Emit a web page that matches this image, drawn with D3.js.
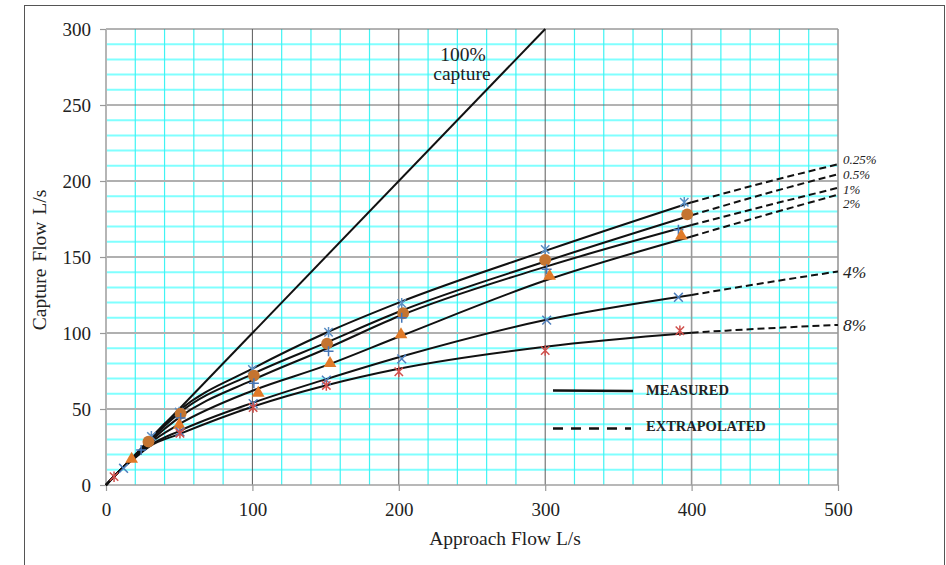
<!DOCTYPE html>
<html>
<head>
<meta charset="utf-8">
<script src="https://cdn.jsdelivr.net/npm/d3@7"></script>
<style>
  html, body { margin: 0; padding: 0; background: #fff; }
  svg { display: block; }
  text { font-family: "Liberation Serif", "Times New Roman", serif; fill: #222; }
</style>
</head>
<body>
<svg id="chart" width="946" height="565"></svg>
<script>
// ---------- data ----------
const seriesNames = ["0.25%", "0.5%", "1%", "2%", "4%", "8%"];
const xTicks = [0, 100, 200, 300, 400, 500];
const yTicks = [0, 50, 100, 150, 200, 250, 300];

// fitted curves (measured part, solid)
const curve025 = [[0,0],[10,10],[20,19.5],[30,30.5],[50,49],[100,76.5],[150,100],[200,120],[300,154],[400,186]];
const curve05  = [[0,0],[10,10],[20,19.3],[30,29.5],[50,47.3],[100,73],[150,93.5],[200,114],[300,147],[400,177.5]];
const curve1   = [[0,0],[10,10],[20,19],[30,28.5],[50,44.5],[100,69],[150,89.5],[200,111],[300,143.5],[400,171]];
const curve2   = [[0,0],[10,10],[20,18.7],[30,27.5],[50,40],[100,62],[150,78.5],[200,97.5],[300,134.5],[400,163.5]];
const curve4   = [[0,0],[10,10],[20,18.3],[30,26],[50,35.5],[100,54],[150,69.5],[200,84],[300,108.5],[400,125]];
const curve8   = [[0,0],[10,10],[20,18],[30,25.5],[50,33.5],[100,51.5],[150,65.5],[200,76.5],[300,91],[400,100.2]];

// extrapolated part (dashed)
const ext025 = [[400,186],[450,199],[500,211]];
const ext05  = [[400,177.5],[450,191.5],[500,204.5]];
const ext1   = [[400,171],[450,183.5],[500,195.5]];
const ext2   = [[400,163.5],[450,177.5],[500,191]];
const ext4   = [[400,125],[450,133],[500,140.5]];
const ext8   = [[400,100.2],[450,103],[500,105.3]];

// 100% capture line
const capture100 = [[0,0],[300,300]];

// measured points
const pts025 = [[31,32],[50,48],[100,76],[152,100.5],[202,119.5],[300,155],[395,186]];
const pts05  = [[29,28.5],[51,47],[101,72],[151,93],[203,113],[300,148],[397,178]];
const pts1   = [[24,23],[51,44],[101,67],[152,88],[202,110],[301,142],[391,168]];
const pts2   = [[17.5,17],[50,39.5],[104,60.5],[153,80],[201.5,99],[303,137.5],[393,164]];
const pts4   = [[12,11],[50.5,35],[100.5,53.5],[150.5,69],[202,83],[301,108.5],[391,123.5]];
const pts8   = [[5.5,5.5],[50.5,34],[100.5,51],[150.5,65.5],[200,74.5],[300,88.5],[392,101.5]];

const legendLabels = ["MEASURED", "EXTRAPOLATED"];

// ---------- layout ----------
const svg = d3.select("#chart");
const x = d3.scaleLinear().domain([0, 500]).range([106, 838]);
const y = d3.scaleLinear().domain([0, 300]).range([485, 29]);

// outer frame
svg.append("rect").attr("x", 24.5).attr("y", 5.5).attr("width", 920).attr("height", 600)
  .attr("fill", "none").attr("stroke", "#555").attr("stroke-width", 1);

const g = svg.append("g");

// minor grid
d3.range(10, 300, 10).filter(v => v % 50 !== 0).forEach(v => {
  g.append("line").attr("x1", x(0)).attr("x2", x(500)).attr("y1", y(v)).attr("y2", y(v))
    .attr("stroke", "#80ffff").attr("stroke-width", 2);
});
d3.range(20, 500, 20).filter(v => v % 100 !== 0).forEach(v => {
  g.append("line").attr("x1", x(v)).attr("x2", x(v)).attr("y1", y(0)).attr("y2", y(300))
    .attr("stroke", "#40f4f4").attr("stroke-width", 1.2);
});
// major grid
[50, 100, 150, 200].forEach(v => {
  g.append("line").attr("x1", x(0)).attr("x2", x(500)).attr("y1", y(v)).attr("y2", y(v))
    .attr("stroke", "#b0b0b0").attr("stroke-width", 2);
});
[250, 300].forEach(v => {
  g.append("line").attr("x1", x(0)).attr("x2", x(500)).attr("y1", y(v)).attr("y2", y(v))
    .attr("stroke", "#666").attr("stroke-width", 1);
});
[100, 200, 300].forEach(v => {
  g.append("line").attr("x1", x(v)).attr("x2", x(v)).attr("y1", y(0)).attr("y2", y(300))
    .attr("stroke", "#5a5a5a").attr("stroke-width", 1);
});
[400, 500].forEach(v => {
  g.append("line").attr("x1", x(v)).attr("x2", x(v)).attr("y1", y(0)).attr("y2", y(300))
    .attr("stroke", "#999").attr("stroke-width", 1.6);
});
// axes lines
g.append("line").attr("x1", x(0)).attr("x2", x(0)).attr("y1", y(0)).attr("y2", y(300))
  .attr("stroke", "#b5b5b5").attr("stroke-width", 2);
g.append("line").attr("x1", x(0)).attr("x2", x(500)).attr("y1", y(0)).attr("y2", y(0))
  .attr("stroke", "#a0a0a0").attr("stroke-width", 1.6);

// axes (ticks + labels)
const yAxis = d3.axisLeft(y).tickValues(yTicks).tickSize(6).tickPadding(9).tickFormat(d3.format("d"));
const xAxis = d3.axisBottom(x).tickValues(xTicks).tickSize(6).tickPadding(12).tickFormat(d3.format("d"));
const ya = svg.append("g").attr("transform", `translate(${x(0)},0)`).call(yAxis);
const xa = svg.append("g").attr("transform", `translate(0,${y(0)})`).call(xAxis);
[ya, xa].forEach(a => {
  a.select(".domain").remove();
  a.selectAll(".tick line").attr("stroke", "#999").attr("stroke-width", 1.2);
  a.selectAll(".tick text").attr("font-family", "Liberation Serif, serif").attr("font-size", 19).attr("fill", "#222");
});

// axis titles
svg.append("text").attr("x", 505).attr("y", 545).attr("text-anchor", "middle")
  .attr("font-size", 19.5).text("Approach Flow L/s");
svg.append("text").attr("transform", "translate(46,260) rotate(-90)").attr("text-anchor", "middle")
  .attr("font-size", 19.5).attr("word-spacing", 2).text("Capture Flow L/s");

// lines
const line = d3.line().x(d => x(d[0])).y(d => y(d[1])).curve(d3.curveMonotoneX);
const lineG = svg.append("g");
lineG.append("path").datum(capture100).attr("d", d3.line().x(d => x(d[0])).y(d => y(d[1])))
  .attr("fill", "none").attr("stroke", "#111").attr("stroke-width", 2);
[curve025, curve05, curve1, curve2, curve4, curve8].forEach(c => {
  lineG.append("path").datum(c).attr("d", line).attr("fill", "none")
    .attr("stroke", "#111").attr("stroke-width", 2);
});
[ext025, ext05, ext1, ext2, ext4, ext8].forEach(c => {
  lineG.append("path").datum(c).attr("d", line).attr("fill", "none")
    .attr("stroke", "#111").attr("stroke-width", 2).attr("stroke-dasharray", "7,4");
});

// marker symbols
const symAsterisk = { draw(ctx, size) { const r = Math.sqrt(size) / 2;
  const a = r * 0.8;
  ctx.moveTo(-a, -a); ctx.lineTo(a, a); ctx.moveTo(-a, a); ctx.lineTo(a, -a);
  ctx.moveTo(0, -r); ctx.lineTo(0, r); } };
const symTimes = { draw(ctx, size) { const r = Math.sqrt(size) / 2 * 0.8;
  ctx.moveTo(-r, -r); ctx.lineTo(r, r); ctx.moveTo(-r, r); ctx.lineTo(r, -r); } };
const symPlus = { draw(ctx, size) { const r = Math.sqrt(size) / 2;
  ctx.moveTo(-r, 0); ctx.lineTo(r, 0); ctx.moveTo(0, -r); ctx.lineTo(0, r); } };

const markerSets = [
  { pts: pts025, type: symAsterisk, size: 110, color: "#5b8fc4", fill: false },
  { pts: pts05, type: d3.symbolCircle, size: 110, color: "#c47430", fill: true },
  { pts: pts1, type: symPlus, size: 100, color: "#4475b8", fill: false },
  { pts: pts2, type: d3.symbolTriangle, size: 70, color: "#e07a28", fill: true },
  { pts: pts4, type: symTimes, size: 120, color: "#4f7fbe", fill: false },
  { pts: pts8, type: symAsterisk, size: 110, color: "#d0504c", fill: false }
];
const mG = svg.append("g");
markerSets.forEach(ms => {
  const sym = d3.symbol().type(ms.type).size(ms.size);
  mG.selectAll(null).data(ms.pts).enter().append("path")
    .attr("transform", d => `translate(${x(d[0])},${y(d[1])})`)
    .attr("d", sym)
    .attr("fill", ms.fill ? ms.color : "none")
    .attr("stroke", ms.fill ? "none" : ms.color)
    .attr("stroke-width", 1.5);
});

// series labels at right
const labelY = [163.5, 178.5, 193.5, 208, 278, 331];
const labelSize = [13, 13, 13, 13, 17.5, 17.5];
seriesNames.forEach((s, i) => {
  svg.append("text").attr("x", 843).attr("y", labelY[i]).attr("font-style", "italic")
    .attr("font-size", labelSize[i]).attr("fill", "#333").text(s);
});

// 100% capture label
svg.append("text").attr("x", 463).attr("y", 61).attr("text-anchor", "middle").attr("font-size", 19.5).text("100%");
svg.append("text").attr("x", 462).attr("y", 80).attr("text-anchor", "middle").attr("font-size", 19.5).text("capture");

// legend
svg.append("line").attr("x1", 553).attr("x2", 633).attr("y1", 390.5).attr("y2", 391)
  .attr("stroke", "#111").attr("stroke-width", 2.5);
svg.append("line").attr("x1", 553).attr("x2", 631).attr("y1", 428.5).attr("y2", 428.5)
  .attr("stroke", "#111").attr("stroke-width", 2.5).attr("stroke-dasharray", "10,8");
svg.append("text").attr("x", 646).attr("y", 395).attr("font-weight", "bold").attr("font-size", 14.5).text(legendLabels[0]);
svg.append("text").attr("x", 646).attr("y", 431).attr("font-weight", "bold").attr("font-size", 14.5).text(legendLabels[1]);
</script>
</body>
</html>
